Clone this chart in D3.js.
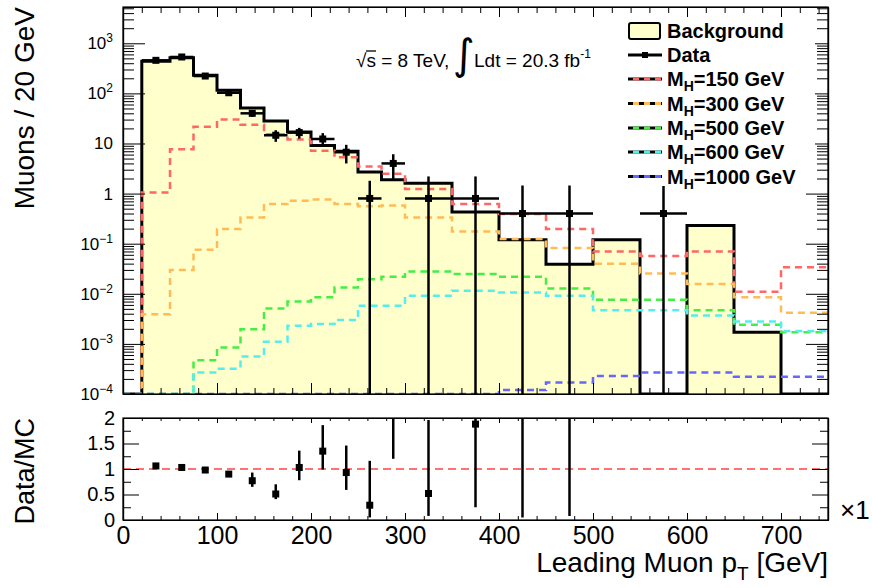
<!DOCTYPE html>
<html>
<head>
<meta charset="utf-8">
<script src="https://cdn.jsdelivr.net/npm/d3@7"></script>
<style>
  html, body { margin: 0; padding: 0; background: #fff; }
  svg { display: block; font-family: "Liberation Sans", Arial, Helvetica, sans-serif; }
</style>
</head>
<body>
<svg id="chart" width="872" height="588"></svg>
<script>
// ---------------- data ----------------
const binEdges = [0, 20, 50, 75, 100, 125, 150, 175, 200, 225, 250, 275, 300, 350, 400, 450, 500, 550, 600, 650, 700, 750];
const background = [0, 437, 517, 229, 115, 51, 28, 17, 9.1, 7.0, 2.7, 1.9, 1.6, 0.43, 0.12, 0.039, 0.12, 0, 0.23, 0.0017, 0];
const sigMH150  = [0, 1.05, 7.7, 21.5, 30, 23.6, 15.3, 12, 7.2, 5.3, 3.46, 2.5, 1.24, 0.62, 0.39, 0.197, 0.07, 0.057, 0.07, 0.011, 0.034];
const sigMH300  = [0, 0.0039, 0.030, 0.076, 0.196, 0.335, 0.62, 0.72, 0.76, 0.62, 0.56, 0.58, 0.335, 0.176, 0.124, 0.082, 0.040, 0.0254, 0.0157, 0.0085, 0.0042];
const sigMH500  = [0, 0, 0, 0.00047, 0.00085, 0.00196, 0.0051, 0.0070, 0.0085, 0.0134, 0.0196, 0.022, 0.028, 0.0247, 0.0219, 0.0128, 0.0076, 0.0076, 0.0047, 0.0024, 0.0017];
const sigMH600  = [0, 0, 0, 0.00027, 0.00032, 0.00056, 0.0011, 0.0023, 0.0025, 0.0030, 0.0058, 0.0058, 0.0091, 0.0115, 0.0106, 0.0091, 0.0047, 0.0047, 0.0037, 0.0028, 0.0018];
const sigMH1000 = [0, 0, 0, 0, 0, 0, 0, 0, 0, 0, 0, 0, 0, 0, 0.00012, 0.00017, 0.00023, 0.00027, 0.00027, 0.00022, 0.00022];
const dataVals = [null, 457, 533, 222, 103, 40, 14.6, 16.5, 12.3, 6.7, 0.8, 4.0, 0.8, 0.8, 0.4, 0.4, null, 0.4, null, null, null];
const dataErr  = [null, 21, 23, 15, 10, 6, 3.8, 4, 3.8, 2.7, 1.0, 2.1, 1.4, 1.4, 1.05, 1.05, null, 1.05, null, null, null];
const ratioVals = [null, 1.06, 1.03, 0.98, 0.90, 0.77, 0.51, 1.03, 1.35, 0.93, 0.29, 2.05, 0.52, 1.88, 3.3, 10, null, null, null, null, null];
const ratioUp   = [null, 0.03, 0.03, 0.03, 0.04, 0.16, 0.19, 0.33, 0.51, 0.53, 0.87, 1.5, 1.44, 1.6, 3, 5, null, null, null, null, null];
const ratioDown = [null, 0.03, 0.03, 0.03, 0.04, 0.12, 0.10, 0.25, 0.36, 0.34, 0.24, 0.85, 0.44, 1.63, 3.25, 9.92, null, null, null, null, null];
const yMajorTicks = [1e-4, 1e-3, 1e-2, 1e-1, 1, 10, 100, 1000];
const xMajorTicks = [0, 100, 200, 300, 400, 500, 600, 700];
const ratioMajorTicks = [0, 0.5, 1, 1.5, 2];
const ratioMinorTicks = [0.25, 0.75, 1.25, 1.75];
const legendLabels = ["Background", "Data", "150", "300", "500", "600", "1000"];

const signals = [
  {vals: sigMH150,  color: "#ff6666", label: "150"},
  {vals: sigMH300,  color: "#ffbb55", label: "300"},
  {vals: sigMH500,  color: "#44ee44", label: "500"},
  {vals: sigMH600,  color: "#55eeee", label: "600"},
  {vals: sigMH1000, color: "#6666ff", label: "1000"}
];

// ---------------- layout ----------------
const X0 = 123, X1 = 828, MT = 7, MB = 394, RT = 418, RB = 520;
const YMIN = 1e-4;
const svg = d3.select("#chart");
const x = d3.scaleLinear().domain([0, 750]).range([X0, X1]);
const y = d3.scaleLog().domain([YMIN, 5300]).range([MB, MT]);
const yr = d3.scaleLinear().domain([0, 2]).range([RB, RT]);
const yc = v => (v > YMIN ? y(v) : MB);

svg.append("defs").html(
  `<clipPath id="clipMain"><rect x="${X0}" y="${MT}" width="${X1 - X0}" height="${MB - MT}"/></clipPath>
   <clipPath id="clipRatio"><rect x="${X0}" y="${RT}" width="${X1 - X0}" height="${RB - RT}"/></clipPath>`);

function stepPath(vals) {
  let p = `M${x(binEdges[0])},${MB}`;
  vals.forEach((v, i) => {
    p += `V${yc(v)}H${x(binEdges[i + 1])}`;
  });
  return p;
}

const main = svg.append("g").attr("clip-path", "url(#clipMain)");

// background fill
main.append("path")
  .attr("d", stepPath(background) + `V${MB}Z`)
  .attr("fill", "#ffffcc").attr("stroke", "none");
main.append("path")
  .attr("d", stepPath(background))
  .attr("fill", "none").attr("stroke", "#000").attr("stroke-width", 3);

// signals
signals.forEach(s => {
  main.append("path")
    .attr("d", stepPath(s.vals))
    .attr("fill", "none").attr("stroke", s.color)
    .attr("stroke-width", 2.5).attr("stroke-dasharray", "7,5");
});

// data
const centers = binEdges.slice(0, -1).map((e, i) => (e + binEdges[i + 1]) / 2);
dataVals.forEach((v, i) => {
  if (v == null) return;
  const cx = x(centers[i]), cy = y(v);
  const e = dataErr[i];
  const lo = v - e > YMIN ? y(v - e) : MB + 2;
  main.append("line").attr("x1", x(binEdges[i])).attr("x2", x(binEdges[i + 1]))
    .attr("y1", cy).attr("y2", cy).attr("stroke", "#000").attr("stroke-width", 2.5);
  main.append("line").attr("x1", cx).attr("x2", cx)
    .attr("y1", y(v + e)).attr("y2", lo).attr("stroke", "#000").attr("stroke-width", 2.5);
  main.append("rect").attr("x", cx - 3.5).attr("y", cy - 3.5).attr("width", 7).attr("height", 7).attr("fill", "#000");
});

// ---------------- main axes ----------------
const yMinor = [];
for (let k = -4; k < 4; k++) for (let m = 2; m <= 9; m++) { const v = m * Math.pow(10, k); if (v < 5300) yMinor.push(v); }
const xMinor = d3.range(0, 751, 20).filter(v => v % 100 !== 0);

function ax(gen, tx, ty) {
  const g = svg.append("g").attr("transform", `translate(${tx},${ty})`).call(gen);
  g.selectAll("line").attr("stroke", "#000").attr("stroke-width", 1);
  g.select(".domain").attr("stroke", "#000").attr("stroke-width", 1.2);
  return g;
}
ax(d3.axisLeft(y).tickValues(yMajorTicks).tickSize(-22).tickSizeOuter(0).tickFormat(""), X0, 0);
ax(d3.axisLeft(y).tickValues(yMinor).tickSize(-11).tickSizeOuter(0).tickFormat(""), X0, 0);
ax(d3.axisBottom(x).tickValues(xMajorTicks).tickSize(-11).tickSizeOuter(0).tickFormat(""), 0, MB);
ax(d3.axisBottom(x).tickValues(xMinor).tickSize(-6).tickSizeOuter(0).tickFormat(""), 0, MB);
ax(d3.axisTop(x).tickValues(xMajorTicks).tickSize(-10).tickSizeOuter(0).tickFormat(""), 0, MT);
ax(d3.axisTop(x).tickValues(xMinor).tickSize(-6).tickSizeOuter(0).tickFormat(""), 0, MT);

ax(d3.axisRight(y).tickValues(yMajorTicks).tickSize(-22).tickSizeOuter(0).tickFormat(""), X1, 0);
ax(d3.axisRight(y).tickValues(yMinor).tickSize(-11).tickSizeOuter(0).tickFormat(""), X1, 0);
// legend box (white, no border) covering part of right ticks
svg.append("rect").attr("x", 622).attr("y", 18).attr("width", 193).attr("height", 168).attr("fill", "#fff");

// main y labels
yMajorTicks.forEach(v => {
  const e = Math.round(Math.log10(v));
  const t = svg.append("text").attr("x", 113).attr("y", y(v) + 6)
    .attr("text-anchor", "end").attr("font-size", 17).attr("fill", "#000");
  if (e === 0) t.text("1");
  else if (e === 1) t.text("10");
  else {
    t.append("tspan").text("10");
    t.append("tspan").attr("dy", -7).attr("font-size", 12).text(e < 0 ? "\u2212" + (-e) : String(e));
  }
});

// ---------------- ratio panel ----------------
const ratio = svg.append("g").attr("clip-path", "url(#clipRatio)");
ratio.append("line").attr("x1", X0).attr("x2", X1).attr("y1", yr(1)).attr("y2", yr(1))
  .attr("stroke", "#ff4444").attr("stroke-width", 1.5).attr("stroke-dasharray", "8,5");
ratioVals.forEach((v, i) => {
  if (v == null) return;
  const cx = x(centers[i]);
  ratio.append("line").attr("x1", cx).attr("x2", cx)
    .attr("y1", yr(v + ratioUp[i])).attr("y2", yr(v - ratioDown[i]))
    .attr("stroke", "#000").attr("stroke-width", 2.5);
  ratio.append("rect").attr("x", cx - 3.5).attr("y", yr(v) - 3.5).attr("width", 7).attr("height", 7).attr("fill", "#000");
});

const rl = ax(d3.axisLeft(yr).tickValues(ratioMajorTicks).tickSize(-16).tickSizeOuter(0).tickPadding(8)
  .tickFormat(d3.format("")), X0, 0);
rl.selectAll("text").attr("font-size", 20).attr("font-family", null).attr("fill", "#000");
ax(d3.axisLeft(yr).tickValues(ratioMinorTicks).tickSize(-8).tickSizeOuter(0).tickFormat(""), X0, 0);
ax(d3.axisRight(yr).tickValues(ratioMajorTicks).tickSize(-16).tickSizeOuter(0).tickFormat(""), X1, 0);
ax(d3.axisRight(yr).tickValues(ratioMinorTicks).tickSize(-8).tickSizeOuter(0).tickFormat(""), X1, 0);
const rb = ax(d3.axisBottom(x).tickValues(xMajorTicks).tickSize(-7).tickSizeOuter(0).tickPadding(6)
  .tickFormat(d3.format("")), 0, RB);
rb.selectAll("text").attr("font-size", 25).attr("font-family", null).attr("fill", "#000");
ax(d3.axisBottom(x).tickValues(xMinor).tickSize(-4).tickSizeOuter(0).tickFormat(""), 0, RB);
ax(d3.axisTop(x).tickValues(xMajorTicks).tickSize(-5).tickSizeOuter(0).tickFormat(""), 0, RT);
ax(d3.axisTop(x).tickValues(xMinor).tickSize(-3).tickSizeOuter(0).tickFormat(""), 0, RT);

// frames
svg.append("rect").attr("x", X0).attr("y", MT).attr("width", X1 - X0).attr("height", MB - MT)
  .attr("fill", "none").attr("stroke", "#000").attr("stroke-width", 1.2);
svg.append("rect").attr("x", X0).attr("y", RT).attr("width", X1 - X0).attr("height", RB - RT)
  .attr("fill", "none").attr("stroke", "#000").attr("stroke-width", 1.2);

// ---------------- titles ----------------
svg.append("text").attr("transform", `translate(34,7) rotate(-90)`).attr("text-anchor", "end")
  .attr("font-size", 28).text("Muons / 20 GeV");
svg.append("text").attr("transform", `translate(34,${RT}) rotate(-90)`).attr("text-anchor", "end")
  .attr("font-size", 27).text("Data/MC");
const xt = svg.append("text").attr("x", X1).attr("y", 572).attr("text-anchor", "end").attr("font-size", 28);
xt.append("tspan").text("Leading Muon p");
xt.append("tspan").attr("dy", 8).attr("font-size", 19).text("T");
xt.append("tspan").attr("dy", -8).text(" [GeV]");
svg.append("text").attr("x", 840).attr("y", 519).style("font-size", "26px").text("\u00d71");

// annotation
const ann = svg.append("text").attr("x", 356).attr("y", 67).attr("font-size", 19);
ann.append("tspan").text("\u221a");
ann.append("tspan").text("s = 8 TeV,");
svg.append("line").attr("x1", 366).attr("x2", 376).attr("y1", 51).attr("y2", 51)
  .attr("stroke", "#000").attr("stroke-width", 1.3);
svg.append("text").attr("x", 453).attr("y", 69).attr("font-size", 42)
  .attr("font-family", "DejaVu Sans").text("\u222b");
const ann2 = svg.append("text").attr("x", 474).attr("y", 67).attr("font-size", 19);
ann2.append("tspan").text("Ldt = 20.3 fb");
ann2.append("tspan").attr("dy", -9).attr("font-size", 12).text("-1");

// ---------------- legend ----------------
const rowY = [31, 55, 79, 103.5, 128, 152, 176.5];
const lg = svg.append("g");
lg.append("rect").attr("x", 629).attr("y", rowY[0] - 8).attr("width", 31).attr("height", 16).attr("rx", 2)
  .attr("fill", "#ffffcc").attr("stroke", "#000").attr("stroke-width", 2);
lg.append("line").attr("x1", 628).attr("x2", 662).attr("y1", rowY[1]).attr("y2", rowY[1])
  .attr("stroke", "#000").attr("stroke-width", 3);
lg.append("rect").attr("x", 642).attr("y", rowY[1] - 3).attr("width", 6).attr("height", 6).attr("fill", "#000");
signals.forEach((s, i) => {
  const yy = rowY[i + 2];
  lg.append("line").attr("x1", 628).attr("x2", 662).attr("y1", yy).attr("y2", yy)
    .attr("stroke", "#000").attr("stroke-width", 3);
  lg.append("line").attr("x1", 628).attr("x2", 662).attr("y1", yy).attr("y2", yy)
    .attr("stroke", s.color).attr("stroke-width", 3).attr("stroke-dasharray", "6,5").attr("stroke-dashoffset", -5);
});
legendLabels.forEach((lab, i) => {
  const t = lg.append("text").attr("x", 667).attr("y", rowY[i] + 7).attr("font-size", 20).attr("font-weight", "bold");
  if (i < 2) t.text(lab);
  else {
    t.append("tspan").text("M");
    t.append("tspan").attr("dy", 5).attr("font-size", 14).text("H");
    t.append("tspan").attr("dy", -5).text("=" + lab + " GeV");
  }
});
</script>
</body>
</html>
